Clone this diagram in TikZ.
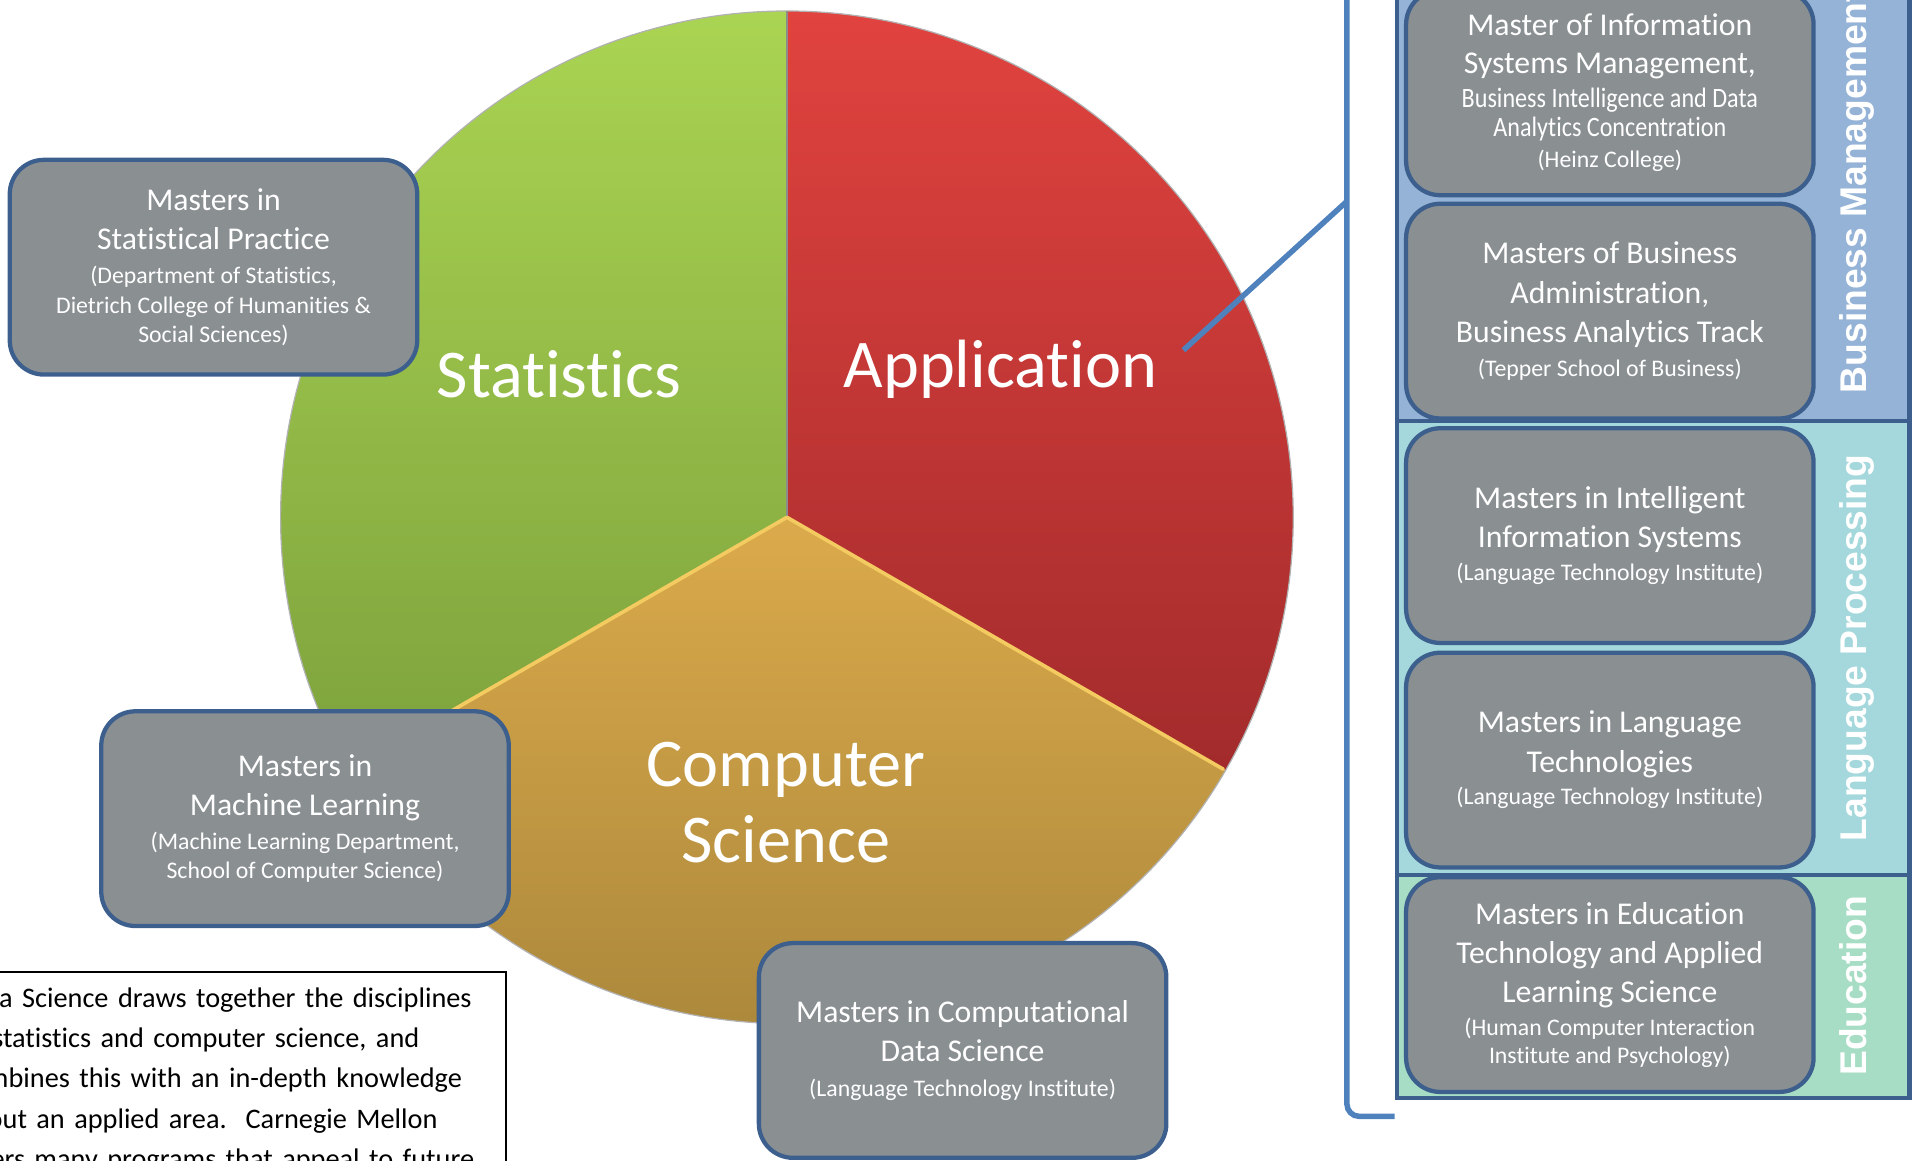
\documentclass[tikz,border=0pt]{standalone}
\usepackage{fontspec}
\setmainfont{Carlito}[Ligatures=NoCommon]
\newfontfamily\headfont{Liberation Sans}
\newfontfamily\narrowfont{Carlito}[FakeStretch=0.86, Ligatures=NoCommon]
\usepackage{tikz}
\usetikzlibrary{positioning}

\definecolor{boxgray}{HTML}{8A8F92}
\definecolor{boxline}{HTML}{3C5F8D}
\definecolor{linkblue}{HTML}{4F81BD}
\definecolor{bizblue}{HTML}{95B3D7}
\definecolor{langteal}{HTML}{A5D8DC}
\definecolor{edugreen}{HTML}{A6DDC4}
\definecolor{statA}{HTML}{AAD452}
\definecolor{statB}{HTML}{7DA23D}
\definecolor{appA}{HTML}{E1433F}
\definecolor{appB}{HTML}{A32B2C}
\definecolor{csA}{HTML}{DBAA4B}
\definecolor{csB}{HTML}{A6843A}
\definecolor{csedge}{HTML}{F3CB60}

\newcommand{\mainsz}{\fontsize{26}{32}\selectfont}
\newcommand{\subsz}{\fontsize{19.5}{23.5}\selectfont}
\newcommand{\narrowsz}{\narrowfont\fontsize{23}{24.5}\selectfont}

\begin{document}
\begin{tikzpicture}[x=1pt, y=1pt,
        prog/.style={rectangle, rounded corners=28pt, draw=boxline, fill=boxgray, line width=3.5pt, text=white, align=center, minimum width=334pt, minimum height=176pt, inner sep=0pt, outer sep=0pt, font=\mainsz},
        slicelabel/.style={text=white, align=center, inner sep=0pt, font=\fontsize{56}{62}\selectfont},
        band/.style={draw=boxline, line width=3.5pt},
        bandlabel/.style={text=white, rotate=90, anchor=base, inner sep=0pt, font=\headfont\bfseries\fontsize{30.5}{36}\selectfont},
        link/.style={draw=linkblue, line width=4.5pt}
      ]
        \useasboundingbox (0,0) rectangle (1568,-951);
        \clip (0,0) rectangle (1568,-951);

        % pie
        \coordinate (ctr) at (645,-424);
        \shade[top color=statA, bottom color=statB] (ctr) -- ++(90:415) arc[start angle=90, end angle=210, radius=415] -- cycle;
        \shade[top color=appA, bottom color=appB]   (ctr) -- ++(90:415) arc[start angle=90, end angle=-30, radius=415] -- cycle;
        \shade[top color=csA, bottom color=csB]     (ctr) -- ++(210:415) arc[start angle=210, end angle=330, radius=415] -- cycle;
        \draw[black!30, line width=1pt] (ctr) circle[radius=415];
        \draw[black!45, line width=1.2pt] (ctr) -- ++(90:415);
        \draw[csedge, line width=3pt, line cap=round] (ctr) -- ++(210:413);
        \draw[csedge, line width=3pt, line cap=round] (ctr) -- ++(330:413);

        \node[slicelabel, anchor=base] (statlbl) at (458,-326) {Statistics};
        \node[slicelabel, anchor=base] (applbl)  at (820,-318) {Application};
        \node[slicelabel]              (cslbl)   at (644,-658) {Computer\\Science};

        % programs around the pie
        \node[prog] (msp) at (175,-219) {Masters in\\Statistical Practice\\[-4pt] \subsz(Department of Statistics,\\[-8pt] \subsz Dietrich College of Humanities \&\\[-8pt] \subsz Social Sciences)};
        \node[prog] (mml) at (250,-671) {Masters in\\Machine Learning\\[-4pt] \subsz(Machine Learning Department,\\[-8pt] \subsz School of Computer Science)};
        \node[prog] (mcds) at (789,-861) {Masters in Computational\\Data Science\\[-4pt] \subsz(Language Technology Institute)};

        % blurb
        \node[draw=black, line width=1.3pt, anchor=north west, align=left, inner xsep=16pt, inner ysep=2pt, text width=432pt, minimum height=178pt, font=\fontsize{23.2}{33}\selectfont] (blurb) at (-50,-796)
            {Data Science draws together the disciplines\\of statistics and computer science, and\\combines this with an in-depth knowledge\\about an applied area.\ \ Carnegie Mellon\\offers many programs that appeal to future};

        % application areas
        \draw[band, fill=bizblue]  (1145,10) rectangle (1565,-345);
        \draw[band, fill=langteal] (1145,-345) rectangle (1565,-717);
        \draw[band, fill=edugreen] (1145,-717) rectangle (1565,-900);

        \node[bandlabel] (bizlbl)  at (1530,-157) {Business Management};
        \node[bandlabel] (langlbl) at (1530,-531) {Language Processing};
        \node[bandlabel] (edulbl)  at (1530,-808) {Education};

        \node[prog, minimum height=168pt] (mism) at (1319.5,-76) {Master of Information\\[-1pt]Systems Management,\\[-4pt] \narrowsz Business Intelligence and Data\\[-8pt] \narrowsz Analytics Concentration\\[-7pt] \subsz(Heinz College)};
        \node[prog] (mba)    [below=7pt of mism] {Masters of Business\\Administration,\\Business Analytics Track\\[-4pt] \subsz(Tepper School of Business)};
        \node[prog] (miis)   [below=8pt of mba]  {Masters in Intelligent\\Information Systems\\[-5pt] \subsz(Language Technology Institute)};
        \node[prog] (mlt)    [below=8pt of miis] {Masters in Language\\Technologies\\[-5pt] \subsz(Language Technology Institute)};
        \node[prog] (metals) [below=8pt of mlt]  {Masters in Education\\Technology and Applied\\Learning Science\\[-5pt] \subsz(Human Computer Interaction\\[-9pt] \subsz Institute and Psychology)};

        % bracket
        \coordinate (brtop) at (1104,12);
        \coordinate (brend) at (1143,-915);
        \coordinate (brjoin) at (1104,-165);
        \coordinate (append) at (970,-287);
        \draw[link, rounded corners=10pt] (brtop) |- (brend);
        \draw[link] (append) -- (brjoin);
      \end{tikzpicture}
\end{document}
